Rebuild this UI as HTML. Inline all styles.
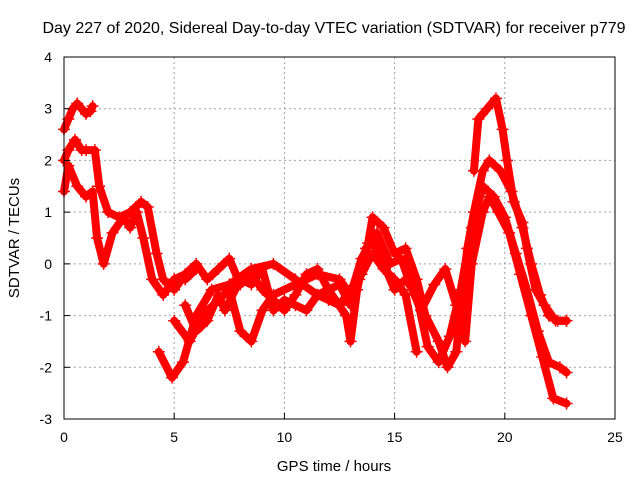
<!DOCTYPE html>
<html><head><meta charset="utf-8"><style>
body{margin:0;background:#fff}
svg text{font-family:"Liberation Sans",sans-serif;fill:#000}
</style></head><body>
<svg id="chart" width="640" height="480" xmlns="http://www.w3.org/2000/svg">
<text x="334" y="33" font-size="16" text-anchor="middle">Day 227 of 2020, Sidereal Day-to-day VTEC variation (SDTVAR) for receiver p779</text>
<text x="334" y="471" font-size="15" text-anchor="middle">GPS time / hours</text>
<text x="19" y="238" font-size="15" text-anchor="middle" transform="rotate(-90 19 238)">SDTVAR / TECUs</text>
<g id="grid"></g>
<g id="marks"></g>
<g id="axes"></g>
</svg>
<script>
const xTicks=[0,5,10,15,20,25];
const yTicks=[-3,-2,-1,0,1,2,3,4];
const trackA=[[0,2.6],[0.2,2.8],[0.4,3.0],[0.6,3.1],[0.8,3.0],[1.0,2.9],[1.2,2.95],[1.3,3.05]];
const trackB=[[0,2.0],[0.2,2.2],[0.5,2.4],[0.8,2.2],[1.0,2.2],[1.4,2.2],[1.6,1.5],[2.0,1.0],[2.5,0.9],[3.0,1.0],[3.5,1.2],[3.8,1.1],[4.2,0.2],[4.5,-0.3],[5.0,-0.5],[5.5,-0.2]];
const trackC=[[0,1.4],[0.2,1.9],[0.6,1.5],[1.0,1.3],[1.3,1.4],[1.5,0.5],[1.8,0.0],[2.2,0.6],[2.7,0.9],[3.0,0.7],[3.3,1.0],[3.6,0.5],[4.0,-0.3],[4.5,-0.6],[5.0,-0.3],[5.5,-0.3],[6.0,-0.1]];
const trackD=[[4.3,-1.7],[4.9,-2.2],[5.4,-1.9],[6.0,-1.0],[6.7,-0.5],[7.5,-0.4],[8.5,-0.1],[9.5,0.0],[10.5,-0.3],[11.5,-0.6],[12.5,-0.4],[13.0,-0.8],[13.4,-0.3],[13.8,0.4],[14.0,0.9],[14.5,0.7],[15.0,0.2],[15.5,0.3],[16.0,-0.3],[16.4,-1.0],[17.0,-1.5],[17.4,-2.0],[17.8,-1.7],[18.0,-0.8],[18.3,0.3],[18.6,1.0],[19.0,1.8],[19.3,2.0],[19.8,1.8],[20.3,1.4],[20.8,0.7],[21.2,0.0],[21.6,-0.6],[22.0,-1.0],[22.4,-1.1],[22.8,-1.1]];
const trackE=[[5.0,-1.1],[5.7,-1.5],[6.3,-1.0],[7.0,-0.7],[7.5,-0.5],[8.0,-1.3],[8.5,-1.5],[9.0,-0.9],[9.5,-0.6],[10.5,-0.4],[11.5,-0.2],[12.5,-0.3],[13.0,-0.6],[13.5,0.1],[14.0,0.5],[14.5,0.0],[15.0,-0.5],[15.5,-0.3],[16.0,-0.6],[16.5,-1.6],[17.0,-1.9],[17.5,-1.4],[18.0,-0.5],[18.5,0.7],[19.0,1.5],[19.5,1.3],[20.0,0.9],[20.5,0.2],[21.0,-0.5],[21.5,-1.3],[22.0,-1.9],[22.5,-2.0],[22.8,-2.1]];
const trackF=[[5.0,-0.3],[5.5,-0.2],[6.0,0.0],[6.5,-0.3],[7.0,-0.1],[7.5,0.1],[8.0,-0.4],[8.5,-0.2],[9.0,-0.5],[10.0,-0.9],[10.5,-0.6],[11.0,-0.2],[11.5,-0.1],[12.0,-0.5],[12.8,-1.0],[13.0,-1.5],[13.3,-0.5],[13.7,0.3],[14.2,0.6],[14.8,0.0],[15.3,0.1],[15.8,-0.5],[16.2,-0.9],[16.8,-0.4],[17.3,-0.1],[17.8,-0.8],[18.2,-1.5],[18.5,0.0],[19.0,1.0],[19.3,1.3],[19.7,1.0],[20.2,0.6],[20.7,-0.2],[21.2,-1.0],[21.7,-1.8],[22.2,-2.6],[22.8,-2.7]];
const trackG=[[18.6,1.8],[18.8,2.8],[19.2,3.0],[19.6,3.2],[19.9,2.6],[20.1,2.0],[20.4,1.2],[20.8,0.8],[21.0,0.3],[21.4,-0.5],[21.8,-0.8],[22.3,-1.1],[22.8,-1.1]];
const trackH=[[5.5,-0.8],[6.0,-1.3],[6.5,-1.1],[7.0,-0.6],[7.3,-0.9],[8.0,-0.3],[8.5,-0.4],[9.0,-0.1],[9.5,-0.9],[10.0,-0.7],[10.5,-0.8],[11.0,-0.9],[11.5,-0.6],[12.0,-0.7],[12.5,-0.8],[13.0,-0.5],[13.5,-0.2],[14.0,0.2],[14.5,-0.1],[15.0,-0.3],[15.5,-0.6],[16.0,-1.7]];
const tracks=[trackA,trackB,trackC,trackD,trackE,trackF,trackG,trackH];
const L=64,R=615,T=57,B=419;
const xs=t=>L+(t-0)/(25-0)*(R-L);
const ys=v=>B-(v+3)/7*(B-T);
const NS="http://www.w3.org/2000/svg";
function mk(tag,parent,attrs){const e=document.createElementNS(NS,tag);for(const k in attrs)e.setAttribute(k,attrs[k]);parent.appendChild(e);return e;}
const grid=document.getElementById('grid'),axes=document.getElementById('axes'),marks=document.getElementById('marks');
xTicks.forEach(t=>{
 if(t>0&&t<25){const g=mk('line',grid,{x1:xs(t),x2:xs(t),y1:T,y2:B,stroke:'#a0a0a0','stroke-dasharray':'2,3'});
 
 }
 const tk=mk('line',axes,{x1:xs(t),x2:xs(t),y1:B,y2:B-6,stroke:'#000'});
 
 
 const lb=mk('text',axes,{x:xs(t),y:B+23,'font-size':14,'text-anchor':'middle'});lb.textContent=t;
 
 
});
yTicks.forEach(v=>{
 if(v>-3&&v<4){const g=mk('line',grid,{x1:L,x2:R,y1:ys(v),y2:ys(v),stroke:'#a0a0a0','stroke-dasharray':'2,3'});
 
 }
 const tk=mk('line',axes,{x1:L,x2:L+6,y1:ys(v),y2:ys(v),stroke:'#000'});
 
 
 const lb=mk('text',axes,{x:L-12,y:ys(v)+5,'font-size':14,'text-anchor':'end'});lb.textContent=v;
 
 
});
const fr=mk('rect',axes,{x:L,y:T,width:R-L,height:B-T,fill:'none',stroke:'#000'});


tracks.forEach((tr,i)=>{
 const pl=mk('polyline',marks,{points:tr.map(p=>xs(p[0])+','+ys(p[1])).join(' '),fill:'none',stroke:'#ff0000','stroke-width':8,'stroke-linejoin':'round','stroke-linecap':'round'});
 
 
 tr.forEach(p=>{const x=xs(p[0]),y=ys(p[1]);
  const m=mk('path',marks,{d:`M${x-6},${y}H${x+6}M${x},${y-6}V${y+6}`,stroke:'#ff0000','stroke-width':1.5});
  
  
 });
});
</script>
</body></html>
